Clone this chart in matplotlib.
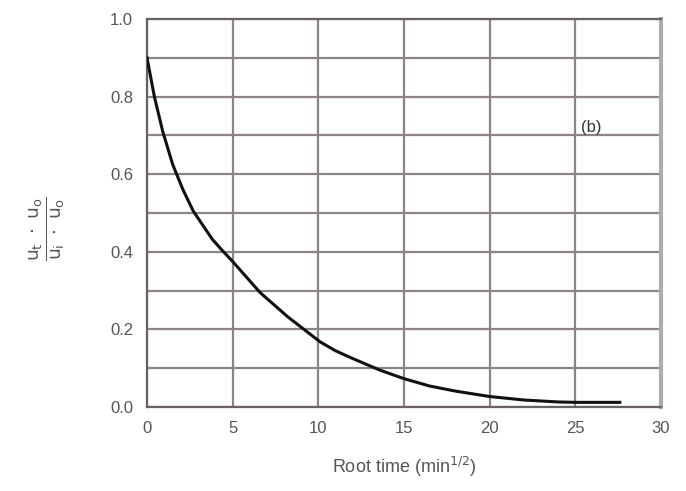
import numpy as np
import matplotlib.pyplot as plt

# dissipation curve read against root time
root_time = [0, 0.13, 0.43, 0.92, 1.5, 2.1, 2.7, 3.8, 4.3, 5.0, 6.6, 8.2,
             10.1, 11.0, 12.0, 13.6, 15.0, 16.5, 18.0, 20.0, 22.0, 24.0,
             25.0, 26.0, 27.6]
ratio = [0.90, 0.87, 0.80, 0.71, 0.625, 0.56, 0.505, 0.433, 0.408, 0.375,
         0.295, 0.233, 0.168, 0.145, 0.125, 0.095, 0.073, 0.054, 0.041,
         0.027, 0.018, 0.013, 0.012, 0.012, 0.012]

x_ticks = [0, 5, 10, 15, 20, 25, 30]
y_ticks = [0.0, 0.2, 0.4, 0.6, 0.8, 1.0]

plt.rcParams['font.family'] = ['Liberation Sans', 'DejaVu Sans']
txt = '#555555'

fig = plt.figure(figsize=(6.86, 4.91), dpi=100)
ax = fig.add_axes([147 / 686, 1 - 407 / 491, 514 / 686, 388 / 491])

ax.plot(root_time, ratio, color='#111111', lw=2.2, zorder=3,
        solid_joinstyle='round')

ax.set_xlim(0, 30)
ax.set_ylim(0, 1.0)
ax.set_xticks(x_ticks)
ax.set_yticks(y_ticks)
ax.set_yticklabels(['%.1f' % v for v in y_ticks])
ax.set_yticks(np.arange(0.1, 1.0, 0.2), minor=True)
ax.grid(True, which='both', color='#8c8484', lw=1.6)
ax.set_axisbelow(True)
ax.tick_params(which='both', length=0, labelsize=12, labelcolor=txt, pad=10)

for side in ['left', 'bottom', 'top']:
    ax.spines[side].set_color('#6a6262')
    ax.spines[side].set_linewidth(1.6)
ax.spines['right'].set_color('#b0aaaa')
ax.spines['right'].set_linewidth(3)

ax.set_xlabel('Root time (min$^{1/2}$)', fontsize=13, color=txt, labelpad=14)
ax.set_ylabel(r'$\frac{\mathrm{u_t\ \cdot\ u_o}}{\mathrm{u_i\ \cdot\ u_o}}$',
              fontsize=19, color=txt)
ax.yaxis.set_label_coords(-0.156, 0.459)
ax.text(25.9, 0.72, '(b)', fontsize=12, color='#333333', ha='center', va='center')

fig.savefig('out.png', dpi=100)
